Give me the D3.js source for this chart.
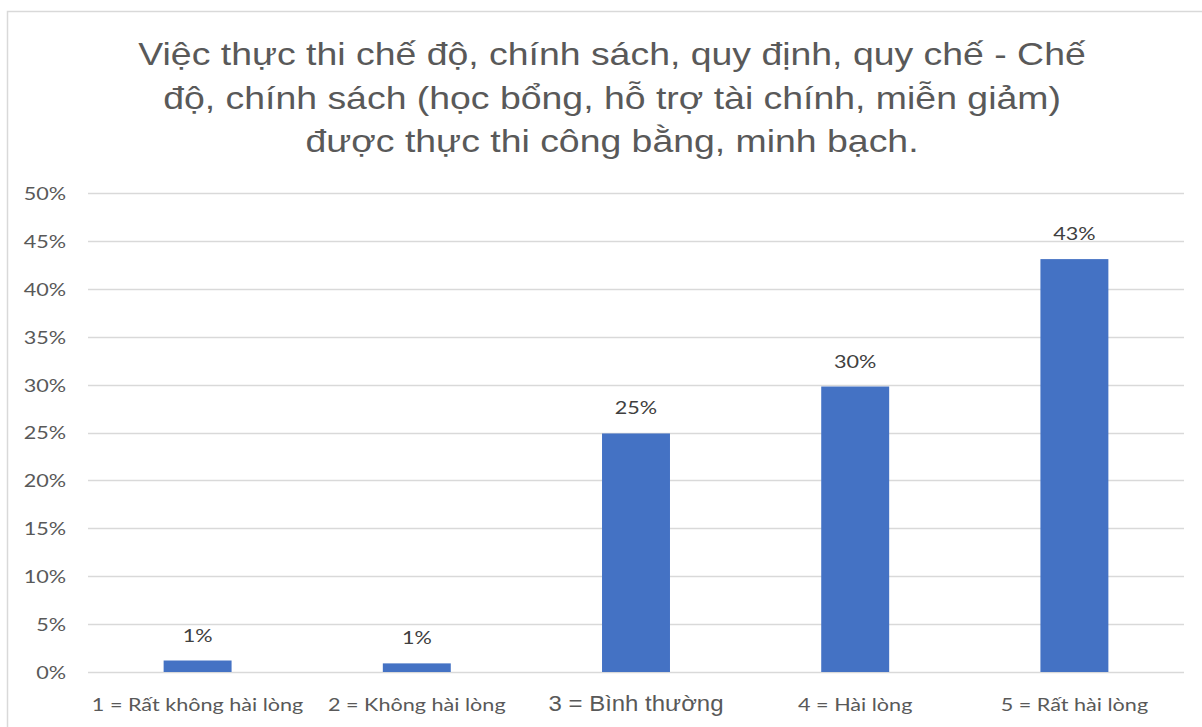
<!DOCTYPE html>
<html>
<head>
<meta charset="utf-8">
<script src="https://cdn.jsdelivr.net/npm/d3@7"></script>
<style>
  body { margin: 0; background: #fff; }
  svg { display: block; }
</style>
</head>
<body>
<svg width="1202" height="727"></svg>
<script>
var categories = ["1 = Rất không hài lòng", "2 = Không hài lòng", "3 = Bình thường", "4 = Hài lòng", "5 = Rất hài lòng"];
var values = [1.2, 0.9, 24.9, 29.8, 43.1];
var valueLabels = ["1%", "1%", "25%", "30%", "43%"];
var yTicks = [0, 5, 10, 15, 20, 25, 30, 35, 40, 45, 50];
var titleLines = [
    "Việc thực thi chế độ, chính sách, quy định, quy chế - Chế",
    "độ, chính sách (học bổng, hỗ trợ tài chính, miễn giảm)",
    "được thực thi công bằng, minh bạch."
];

var svg = d3.select("svg");
var width = +svg.attr("width");
var height = +svg.attr("height");

// the picture is a bit wider than tall, so text is stretched sideways
var sx = 1.2;
var bodyFont = "Lato, 'Open Sans', sans-serif";
var titleFont = "'Liberation Sans', Arial, sans-serif";

// chart area border (only top and left visible)
svg.append("path")
    .attr("d", "M7.5," + height + "V11.5H" + width)
    .attr("fill", "none")
    .attr("stroke", "#d9d9d9")
    .attr("stroke-width", 1.5);

// title
svg.append("g")
    .selectAll("text")
    .data(titleLines)
    .enter()
    .append("text")
    .attr("transform", function(d, i) {
        return "translate(612," + (65 + i * 43.5) + ") scale(1.207,1)";
    })
    .attr("text-anchor", "middle")
    .style("font-family", titleFont)
    .style("font-size", "31px")
    .style("fill", "#595959")
    .text(function(d) { return d; });

var margin = { left: 88, right: 1184, top: 193, bottom: 672 };

var x = d3.scaleBand()
    .domain(categories)
    .range([margin.left, margin.right])
    .paddingInner(0.69)
    .paddingOuter(0.345);

var y = d3.scaleLinear()
    .domain([0, 50])
    .range([margin.bottom, margin.top]);

// gridlines
svg.append("g")
    .selectAll("line")
    .data(yTicks)
    .enter()
    .append("line")
    .attr("x1", margin.left)
    .attr("x2", margin.right)
    .attr("y1", function(d) { return Math.round(y(d)) + 0.5; })
    .attr("y2", function(d) { return Math.round(y(d)) + 0.5; })
    .style("stroke", "#d9d9d9")
    .attr("stroke-width", 1.5);

// y axis labels
var yAxis = d3.axisLeft(y)
    .tickValues(yTicks)
    .tickFormat(function(d) { return d + "%"; })
    .tickSize(0);

var yg = svg.append("g")
    .attr("transform", "translate(" + margin.left + ",0)")
    .call(yAxis);
yg.select(".domain").remove();
yg.selectAll("text")
    .attr("x", -22 / sx)
    .attr("dy", "0.36em")
    .attr("transform", "scale(" + sx + ",1)")
    .style("font-family", bodyFont)
    .style("font-size", "18px")
    .style("fill", "#595959");

// bars
svg.append("g")
    .selectAll("rect")
    .data(values)
    .enter()
    .append("rect")
    .attr("x", function(d, i) { return x(categories[i]); })
    .attr("width", x.bandwidth())
    .attr("y", function(d) { return y(d); })
    .attr("height", function(d) { return y(0) - y(d); })
    .attr("fill", "#4472c4");

// data labels
svg.append("g")
    .selectAll("text")
    .data(values)
    .enter()
    .append("text")
    .attr("transform", function(d, i) {
        return "translate(" + (x(categories[i]) + x.bandwidth() / 2) + "," + (y(d) - 19) + ") scale(" + sx + ",1)";
    })
    .attr("text-anchor", "middle")
    .style("font-family", bodyFont)
    .style("font-size", "18px")
    .style("fill", "#404040")
    .text(function(d, i) { return valueLabels[i]; });

// x axis labels
var xAxis = d3.axisBottom(x).tickSize(0);
var xg = svg.append("g")
    .attr("transform", "translate(0," + margin.bottom + ")")
    .call(xAxis);
xg.select(".domain").remove();
xg.selectAll("text")
    .attr("y", 39)
    .attr("dy", 0)
    .attr("transform", function(d) {
        return "scale(" + (d.indexOf("3 =") === 0 ? 1.09 : sx) + ",1)";
    })
    .style("font-family", function(d) { return d.indexOf("3 =") === 0 ? titleFont : bodyFont; })
    .style("font-size", function(d) { return d.indexOf("3 =") === 0 ? "22px" : "18px"; })
    .style("fill", "#595959");
</script>
</body>
</html>
